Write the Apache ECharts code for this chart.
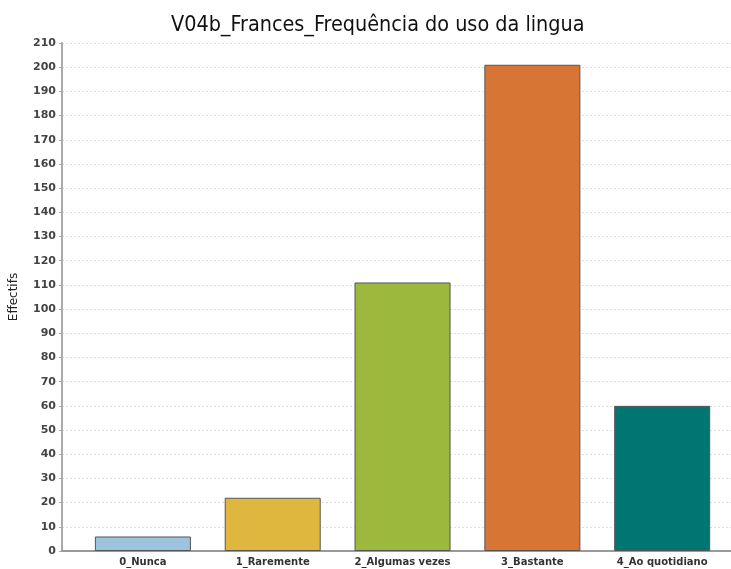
<!DOCTYPE html>
<html>
<head>
<meta charset="utf-8">
<script src="https://cdn.jsdelivr.net/npm/echarts@6/dist/echarts.min.js"></script>
<style>
	html, body { margin: 0; padding: 0; background: #fff; }
	#chart { width: 731px; height: 569px; }
</style>
</head>
<body>
<div id="chart"></div>
<script>
var categories = [ '0_Nunca', '1_Raremente', '2_Algumas vezes', '3_Bastante', '4_Ao quotidiano' ];
var values = [ 6, 22, 111, 201, 60 ];
var colors = [ '#9dc3de', '#e0b73e', '#9cb83d', '#d67534', '#007672' ];
var positions = [ 0, 1, 2, 3, 4 ];

var chart = echarts.init(document.getElementById('chart'));

var barData = [];
for (var i = 0; i < categories.length; i++) {
	barData.push({
		value : [ positions[i], values[i] ],
		itemStyle : { color : colors[i] }
	});
}

var option = {
	animation : false,
	title : {
		text : 'V04b_Frances_Frequência do uso da lingua',
		left : 166,
		top : 10,
		textStyle : {
			fontFamily : 'DejaVu Sans Condensed',
			fontSize : 21.4,
			fontWeight : 'normal',
			color : '#111'
		}
	},
	grid : {
		left : 61,
		right : 0,
		top : 43,
		bottom : 18
	},
	xAxis : {
		type : 'value',
		min : -0.623,
		max : 4.53,
		splitLine : { show : false },
		axisLine : { show : true, onZero : false, lineStyle : { color : '#999', width : 2 } },
		axisTick : { show : false },
		axisLabel : {
			customValues : positions,
			formatter : function(v) {
				return categories[Math.round(v)];
			},
			fontFamily : 'DejaVu Sans',
			fontSize : 10,
			fontWeight : 'bold',
			color : '#333',
			margin : 6
		}
	},
	yAxis : {
		type : 'value',
		min : 0,
		max : 210,
		interval : 10,
		name : 'Effectifs',
		nameLocation : 'middle',
		nameGap : 42,
		nameTextStyle : {
			fontFamily : 'DejaVu Sans',
			fontSize : 12,
			color : '#222'
		},
		axisLine : { show : true, onZero : false, lineStyle : { color : '#aaa', width : 2 } },
		axisTick : { show : true, length : 3, lineStyle : { color : '#aaa' } },
		axisLabel : {
			fontFamily : 'DejaVu Sans',
			fontSize : 11,
			fontWeight : 'bold',
			color : '#444',
			margin : 6
		},
		splitLine : {
			show : true,
			lineStyle : { color : '#ddd', type : [ 2, 2 ] }
		}
	},
	series : [ {
		type : 'bar',
		barWidth : 96,
		data : barData,
		itemStyle : {
			borderColor : '#555',
			borderWidth : 1
		}
	} ]
};
chart.setOption(option);
</script>
</body>
</html>
